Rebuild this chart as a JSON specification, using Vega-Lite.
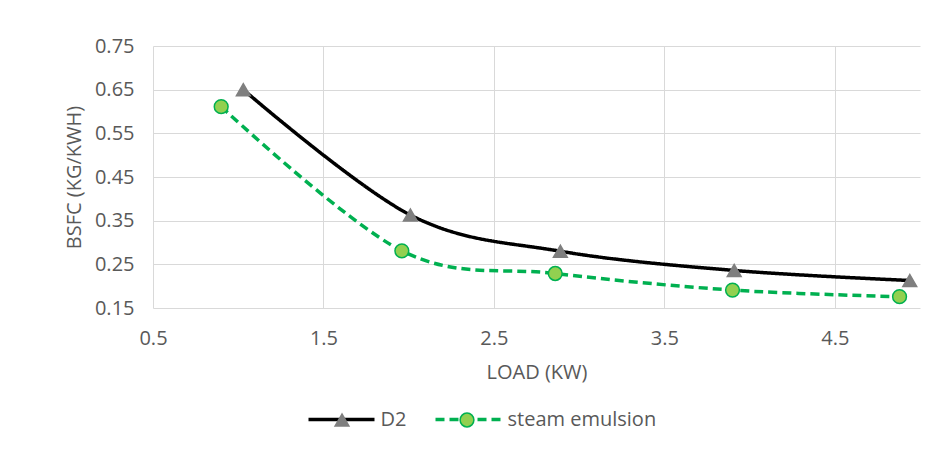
{
  "$schema": "https://vega.github.io/schema/vega-lite/v6.json",
  "width": 767,
  "height": 262,
  "autosize": {"type": "none"},
  "padding": {"left": 153, "top": 46, "right": 11, "bottom": 144},
  "background": "white",
  "config": {
    "font": "Open Sans",
    "view": {"stroke": null},
    "axis": {
      "domain": false,
      "ticks": false,
      "tickSize": 0,
      "gridColor": "#D9D9D9",
      "gridWidth": 1,
      "labelFont": "Open Sans",
      "labelFontSize": 20,
      "labelColor": "#595959",
      "labelFlush": false,
      "titleFont": "Open Sans",
      "titleFontSize": 20,
      "titleColor": "#595959",
      "titleFontWeight": "normal"
    }
  },
  "data": {
    "values": [
      {"series": "D2", "load": 1.03, "bsfc": 0.65},
      {"series": "D2", "load": 2.01, "bsfc": 0.363},
      {"series": "D2", "load": 2.89, "bsfc": 0.28},
      {"series": "D2", "load": 3.91, "bsfc": 0.236},
      {"series": "D2", "load": 4.94, "bsfc": 0.213},
      {"series": "steam emulsion", "load": 0.9, "bsfc": 0.611},
      {"series": "steam emulsion", "load": 1.96, "bsfc": 0.281},
      {"series": "steam emulsion", "load": 2.86, "bsfc": 0.229},
      {"series": "steam emulsion", "load": 3.9, "bsfc": 0.191},
      {"series": "steam emulsion", "load": 4.88, "bsfc": 0.176}
    ]
  },
  "encoding": {
    "x": {
      "field": "load",
      "type": "quantitative",
      "scale": {"domain": [0.5, 5], "nice": false, "zero": false},
      "axis": {
        "title": "LOAD (KW)",
        "values": [0.5, 1.5, 2.5, 3.5, 4.5],
        "format": ".1f",
        "labelPadding": 20,
        "titlePadding": 14
      }
    },
    "y": {
      "field": "bsfc",
      "type": "quantitative",
      "scale": {"domain": [0.15, 0.75], "nice": false, "zero": false},
      "axis": {
        "title": "BSFC (KG/KWH)",
        "values": [0.15, 0.25, 0.35, 0.45, 0.55, 0.65, 0.75],
        "format": ".2f",
        "labelPadding": 19,
        "titlePadding": 10
      }
    }
  },
  "layer": [
    {
      "mark": {"type": "line", "interpolate": "cardinal", "strokeWidth": 3.5},
      "encoding": {
        "color": {
          "field": "series",
          "type": "nominal",
          "scale": {"domain": ["D2", "steam emulsion"], "range": ["#000000", "#00B050"]},
          "legend": {
            "title": null, "orient": "none", "legendX": 153.5, "legendY": 338.5,
            "direction": "horizontal", "symbolType": "stroke", "symbolSize": 4356,
            "symbolStrokeWidth": 3.5, "labelOffset": 4, "columnPadding": 22, "padding": 0,
            "labelFont": "Open Sans", "labelFontSize": 20, "labelColor": "#595959"
          }
        },
        "strokeDash": {
          "field": "series",
          "type": "nominal",
          "scale": {"domain": ["D2", "steam emulsion"], "range": [[1, 0], [9, 5]]},
          "legend": {
            "title": null, "orient": "none", "legendX": 153.5, "legendY": 338.5,
            "direction": "horizontal", "symbolType": "stroke", "symbolSize": 4356,
            "symbolStrokeWidth": 3.5, "labelOffset": 4, "columnPadding": 22, "padding": 0,
            "labelFont": "Open Sans", "labelFontSize": 20, "labelColor": "#595959"
          }
        }
      }
    },
    {
      "mark": {"type": "point", "filled": true, "size": 190, "opacity": 1, "strokeWidth": 1.5},
      "encoding": {
        "shape": {
          "field": "series",
          "type": "nominal",
          "scale": {"range": ["triangle-up", "circle"]},
          "legend": {
            "title": null, "orient": "none", "legendX": 153.5, "legendY": 364,
            "direction": "horizontal", "symbolSize": 190, "symbolStrokeWidth": 1.5,
            "symbolOffset": 25.5, "labelOffset": 0, "columnPadding": 79, "padding": 0,
            "labelFontSize": 20, "labelExpr": "''"
          }
        },
        "fill": {
          "field": "series",
          "type": "nominal",
          "scale": {"range": ["#7F7F7F", "#92D050"]},
          "legend": {
            "title": null, "orient": "none", "legendX": 153.5, "legendY": 364,
            "direction": "horizontal", "symbolSize": 190, "symbolStrokeWidth": 1.5,
            "symbolOffset": 25.5, "labelOffset": 0, "columnPadding": 79, "padding": 0,
            "labelFontSize": 20, "labelExpr": "''"
          }
        },
        "stroke": {
          "field": "series",
          "type": "nominal",
          "scale": {"range": ["#7F7F7F", "#00B050"]},
          "legend": {
            "title": null, "orient": "none", "legendX": 153.5, "legendY": 364,
            "direction": "horizontal", "symbolSize": 190, "symbolStrokeWidth": 1.5,
            "symbolOffset": 25.5, "labelOffset": 0, "columnPadding": 79, "padding": 0,
            "labelFontSize": 20, "labelExpr": "''"
          }
        }
      }
    }
  ]
}
